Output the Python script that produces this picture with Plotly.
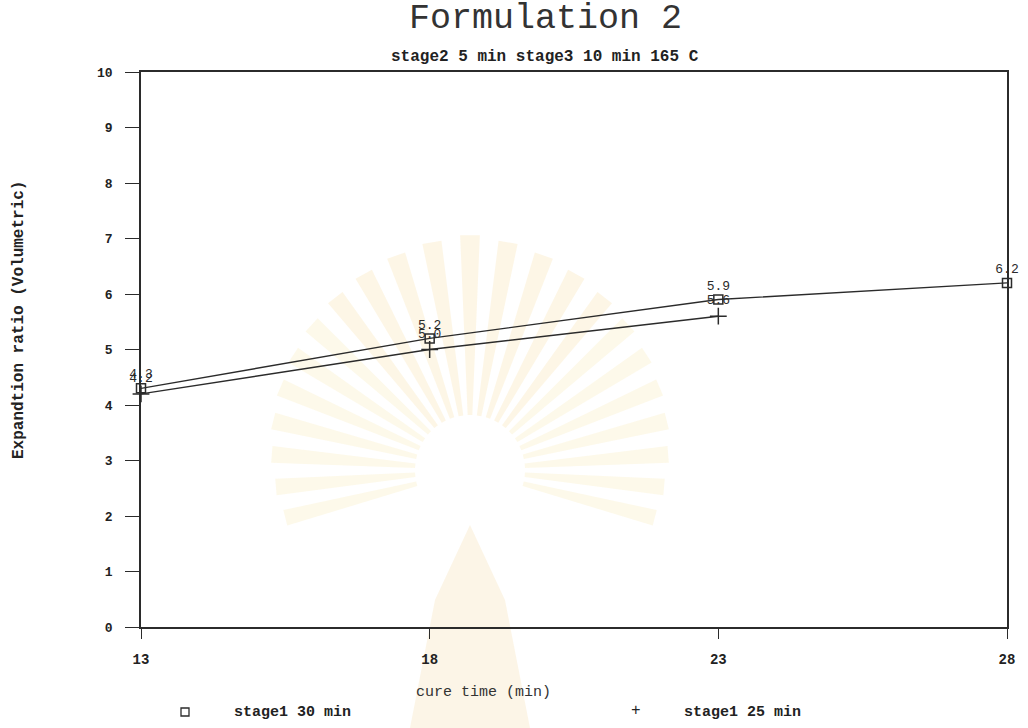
import math
import plotly.graph_objects as go

# cure time (min) and volumetric expansion ratio for each stage-1 time
cure_time_30 = [13, 18, 23, 28]
ratio_30 = [4.3, 5.2, 5.9, 6.2]
cure_time_25 = [13, 18, 23]
ratio_25 = [4.2, 5.0, 5.6]

x_ticks = [13, 18, 23, 28]
y_ticks = [0, 1, 2, 3, 4, 5, 6, 7, 8, 9, 10]

W, H = 1028, 728
L, R, T, B = 141, 1007, 72, 627  # plot area in pixels


def px(x):
    return (x - L) / (R - L)


def py(y):
    return (B - y) / (B - T)


MONO = "Liberation Mono, DejaVu Sans Mono, monospace"
INK = "#2b2b2b"

fig = go.Figure()

fig.add_trace(go.Scatter(
    x=cure_time_30, y=ratio_30, mode="lines+markers+text",
    name="stage1 30 min",
    line=dict(color=INK, width=1.4),
    marker=dict(symbol="square-open", size=9, color=INK, line=dict(width=1.5)),
    text=[f"{v:.1f}" for v in ratio_30], textposition="top center",
    textfont=dict(family=MONO, size=13, color=INK),
    cliponaxis=False, showlegend=False,
))
fig.add_trace(go.Scatter(
    x=cure_time_25, y=ratio_25, mode="lines+markers+text",
    name="stage1 25 min",
    line=dict(color=INK, width=1.4),
    marker=dict(symbol="cross-thin", size=12, color=INK, line=dict(width=1.5, color=INK)),
    text=[f"{v:.1f}" for v in ratio_25], textposition="top center",
    textfont=dict(family=MONO, size=13, color=INK),
    cliponaxis=False, showlegend=False,
))

# faint emblem watermark behind the plot: sunburst rays and a central tower
shapes = []
cx, cy = 470, 470
for k in range(-11, 12):
    ang = math.radians(k * 9.5)
    half = math.radians(2.4)
    r0 = 55
    r1 = 235 - abs(k) * 4
    pts = [
        (cx + r0 * math.sin(ang - half), cy - r0 * math.cos(ang - half)),
        (cx + r1 * math.sin(ang - half), cy - r1 * math.cos(ang - half)),
        (cx + r1 * math.sin(ang + half), cy - r1 * math.cos(ang + half)),
        (cx + r0 * math.sin(ang + half), cy - r0 * math.cos(ang + half)),
    ]
    path = "M " + " L ".join(f"{px(a):.4f},{py(b):.4f}" for a, b in pts) + " Z"
    col = "rgba(248,228,160,0.22)" if abs(k) > 4 else "rgba(244,214,140,0.22)"
    shapes.append(dict(type="path", path=path, xref="paper", yref="paper",
                       fillcolor=col, line=dict(width=0), layer="below"))
tower = [(470, 525), (505, 600), (530, 728), (410, 728), (435, 600)]
shapes.append(dict(type="path",
                   path="M " + " L ".join(f"{px(a):.4f},{py(b):.4f}" for a, b in tower) + " Z",
                   xref="paper", yref="paper", fillcolor="rgba(240,200,120,0.18)",
                   line=dict(width=0), layer="below"))

# legend glyph for the square series
shapes.append(dict(type="rect", xref="paper", yref="paper",
                   x0=px(181), x1=px(189), y0=py(716), y1=py(708),
                   line=dict(color=INK, width=1.3), fillcolor="rgba(0,0,0,0)"))


def label(text, x, y, size, xanchor="center", angle=0, color="#222"):
    return dict(text=text, x=px(x), y=py(y), xref="paper", yref="paper",
                xanchor=xanchor, yanchor="middle", showarrow=False,
                textangle=angle, font=dict(family=MONO, size=size, color=color))


annotations = [
    label("Formulation 2", 545, 19, 35, color="#333"),
    label("<b>stage2 5 min stage3 10 min 165 C</b>", 545, 57, 16),
    label("<b>Expandtion ratio (Volumetric)</b>", 19, 320, 16, angle=-90),
    label("cure time (min)", 483, 692, 15, color="#333"),
    label("<b>stage1 30 min</b>", 232, 712, 15, xanchor="left"),
    label("+", 636, 711, 16),
    label("<b>stage1 25 min</b>", 682, 712, 15, xanchor="left"),
]

fig.update_layout(
    width=W, height=H,
    margin=dict(l=L, r=W - R, t=T, b=H - B, pad=0),
    paper_bgcolor="white", plot_bgcolor="rgba(0,0,0,0)",
    shapes=shapes, annotations=annotations,
    showlegend=False,
)
fig.update_xaxes(
    range=[13, 28], tickvals=x_ticks, ticktext=[f"<b>{v}</b>" for v in x_ticks],
    showgrid=False, zeroline=False, showline=True, mirror=True,
    linecolor=INK, linewidth=1.5, ticks="outside", ticklen=10, tickcolor=INK,
    tickfont=dict(family=MONO, size=14, color="#222"), ticklabelstandoff=8,
)
fig.update_yaxes(
    range=[0, 10], tickvals=y_ticks, ticktext=[f"<b>{v}</b>" for v in y_ticks],
    showgrid=False, zeroline=False, showline=True, mirror=True,
    linecolor=INK, linewidth=1.5, ticks="outside", ticklen=14, tickcolor=INK,
    tickfont=dict(family=MONO, size=13, color="#222"), ticklabelstandoff=10,
)

fig.write_html("out.html")
